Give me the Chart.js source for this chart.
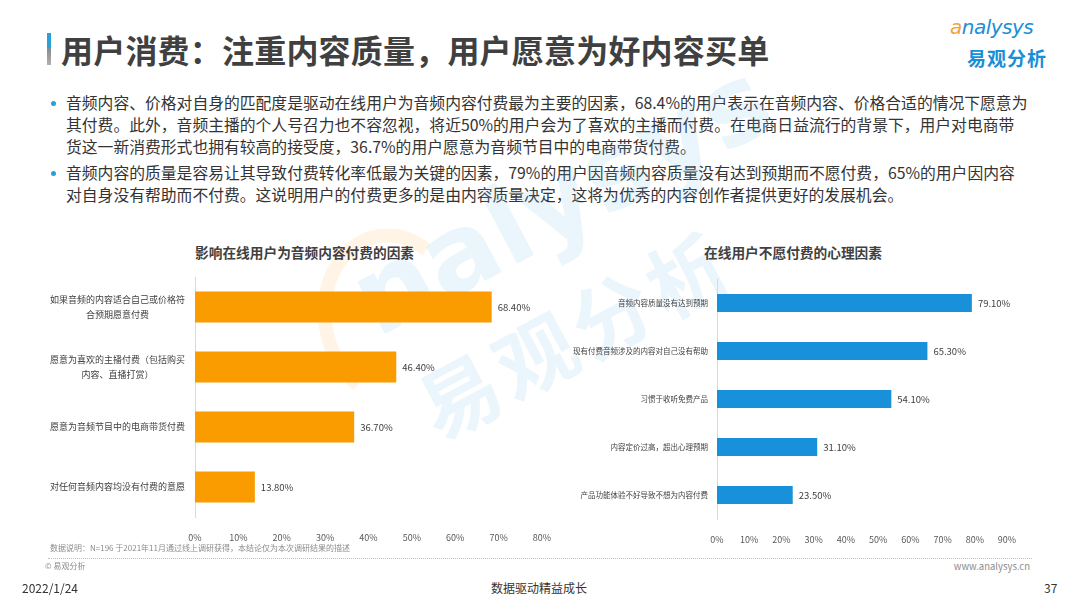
<!DOCTYPE html>
<html lang="zh">
<head>
    <meta charset="UTF-8">
    <title>用户消费：注重内容质量，用户愿意为好内容买单</title>
    <style>
        body {
            margin: 0;
            width: 1080px;
            height: 608px;
            background: #ffffff;
            font-family: 'Noto Sans CJK SC', 'Noto Sans', sans-serif;
            color: #404040;
            position: relative;
            overflow: hidden;
        }
        .abs { position: absolute; white-space: nowrap; }
        .accent {
            left: 47px; top: 33px; width: 4px; height: 32px;
            background: linear-gradient(#2aa0d8 0%, #2aa0d8 45%, #8c8c8c 50%, #b0b0b0 100%);
        }
        .title {
            left: 61px; top: 29px;
            font-size: 32px; font-weight: 700; color: #404040;
            line-height: 40px; letter-spacing: 0.2px;
        }
        .logo-en {
            left: 950px; top: 15px; font-family: 'DejaVu Sans', sans-serif;
            font-size: 20px; font-style: italic; color: #1a8fd6; letter-spacing: -0.5px;
        }
        .logo-cn {
            left: 967px; top: 44px; font-size: 19px; font-weight: 700; color: #1a8fd6; letter-spacing: 1px;
        }
        .bullet-line {
            font-size: 15.8px; line-height: 22px; color: #333333; left: 66px;
        }
        .dot {
            width: 5px; height: 5px; border-radius: 50%; background: #2aa0d8; left: 51px;
        }
        .chart-title {
            font-size: 13.7px; font-weight: 700; color: #404040;
        }
        .watermark {
            transform: rotate(-28deg); transform-origin: left top;
            color: rgba(120, 190, 235, 0.15); font-family: 'DejaVu Sans', sans-serif; font-weight: 700;
        }
        .arc {
            left: 318px; top: 228px; width: 120px; height: 150px;
            border-radius: 50%; border: 14px solid transparent;
            border-top-color: rgba(250, 170, 60, 0.13); border-left-color: rgba(250, 170, 60, 0.13);
            transform: rotate(-10deg);
        }
        .note { font-size: 8px; color: #8c8c8c; }
        .foot { font-size: 12px; color: #333333; }
        .dotted {
            left: 48px; top: 558px; width: 984px; height: 0;
            border-top: 1px dotted #bfbfbf;
        }
        canvas { position: absolute; }
    </style>
    <script src="https://cdn.jsdelivr.net/npm/chart.js"></script>
</head>
<body>
    <div class="abs accent"></div>
    <div class="abs title">用户消费：注重内容质量，用户愿意为好内容买单</div>
    <div class="abs logo-en"><span style="color:#f3a43a">a</span>nalysys</div>
    <div class="abs logo-cn">易观分析</div>

    <div class="abs dot" style="top:101px"></div>
    <div class="abs bullet-line" style="top:92px">音频内容、价格对自身的匹配度是驱动在线用户为音频内容付费最为主要的因素，68.4%的用户表示在音频内容、价格合适的情况下愿意为</div>
    <div class="abs bullet-line" style="top:114px">其付费。此外，音频主播的个人号召力也不容忽视，将近50%的用户会为了喜欢的主播而付费。在电商日益流行的背景下，用户对电商带</div>
    <div class="abs bullet-line" style="top:136px">货这一新消费形式也拥有较高的接受度，36.7%的用户愿意为音频节目中的电商带货付费。</div>
    <div class="abs dot" style="top:171px"></div>
    <div class="abs bullet-line" style="top:162px">音频内容的质量是容易让其导致付费转化率低最为关键的因素，79%的用户因音频内容质量没有达到预期而不愿付费，65%的用户因内容</div>
    <div class="abs bullet-line" style="top:184px">对自身没有帮助而不付费。这说明用户的付费更多的是由内容质量决定，这将为优秀的内容创作者提供更好的发展机会。</div>

    <div class="abs arc"></div>
    <div class="abs watermark" style="left:330px; top:250px; font-size:108px;">nalysys</div>
    <div class="abs watermark" style="left:395px; top:360px; font-size:80px; font-family:'Noto Sans CJK SC'; letter-spacing:6px;">易观分析</div>

    <div class="abs chart-title" style="left:195px; top:242px;">影响在线用户为音频内容付费的因素</div>
    <div class="abs chart-title" style="left:704px; top:242px;">在线用户不愿付费的心理因素</div>

    <canvas id="leftChart" style="left:40px; top:270px;" width="520" height="275"></canvas>
    <canvas id="rightChart" style="left:560px; top:270px;" width="500" height="275"></canvas>

    <div class="abs note" style="left:50px; top:542px;">数据说明：N=196 于2021年11月通过线上调研获得，本结论仅为本次调研结果的描述</div>
    <div class="abs dotted"></div>
    <div class="abs note" style="left:45px; top:560px;">© 易观分析</div>
    <div class="abs note" style="right:50px; top:559px; font-size:9.5px;">www.analysys.cn</div>
    <div class="abs foot" style="left:22px; top:579px;">2022/1/24</div>
    <div class="abs foot" style="left:491px; top:579px;">数据驱动精益成长</div>
    <div class="abs foot" style="left:1044px; top:579px;">37</div>

    <script>
        // 影响在线用户为音频内容付费的因素
        const payFactors = [
            ['如果音频的内容适合自己或价格符', '合预期愿意付费'],
            ['愿意为喜欢的主播付费（包括购买', '内容、直播打赏）'],
            '愿意为音频节目中的电商带货付费',
            '对任何音频内容均没有付费的意愿'
        ];
        const payValues = [68.4, 46.4, 36.7, 13.8];

        // 在线用户不愿付费的心理因素
        const refuseFactors = [
            '音频内容质量没有达到预期',
            '现有付费音频涉及的内容对自己没有帮助',
            '习惯于收听免费产品',
            '内容定价过高，超出心理预期',
            '产品功能体验不好导致不想为内容付费'
        ];
        const refuseValues = [79.1, 65.3, 54.1, 31.1, 23.5];

        const leftTicks = [0, 10, 20, 30, 40, 50, 60, 70, 80];
        const rightTicks = [0, 10, 20, 30, 40, 50, 60, 70, 80, 90];

        const font = "'Noto Sans CJK SC', 'Noto Sans', sans-serif";

        // draws "68.40%" next to each bar
        const valueLabels = {
            id: 'valueLabels',
            afterDatasetsDraw(chart, args, opts) {
                const ctx = chart.ctx;
                const meta = chart.getDatasetMeta(0);
                ctx.save();
                ctx.font = opts.size + 'px ' + font;
                ctx.fillStyle = '#404040';
                ctx.textBaseline = 'middle';
                meta.data.forEach((bar, i) => {
                    const v = chart.data.datasets[0].data[i];
                    ctx.fillText(v.toFixed(2) + '%', bar.x + 6, bar.y);
                });
                ctx.restore();
            }
        };

        function makeChart(id, labels, values, ticks, color, opt) {
            return new Chart(document.getElementById(id), {
                type: 'bar',
                data: {
                    labels: labels,
                    datasets: [{
                        data: values,
                        backgroundColor: color,
                        barPercentage: opt.bar,
                        categoryPercentage: 1
                    }]
                },
                options: {
                    indexAxis: 'y',
                    responsive: false,
                    animation: false,
                    layout: { padding: { top: opt.top, right: opt.right, left: 0, bottom: 0 } },
                    plugins: {
                        legend: { display: false },
                        tooltip: { enabled: false },
                        valueLabels: { size: opt.valueSize }
                    },
                    scales: {
                        x: {
                            min: 0,
                            max: ticks[ticks.length - 1],
                            afterBuildTicks: s => { s.ticks = ticks.map(v => ({ value: v })); },
                            afterFit: s => { s.height = opt.xHeight; },
                            grid: { display: false },
                            border: { display: false },
                            ticks: {
                                callback: v => v + '%',
                                color: '#595959',
                                padding: 7,
                                maxRotation: 0,
                                font: { family: font, size: 9 }
                            }
                        },
                        y: {
                            afterFit: s => {
                                s.width = opt.yWidth;
                                s.paddingTop = 0;
                                s.paddingBottom = 0;
                            },
                            grid: { display: false, drawTicks: false },
                            border: { display: true, color: '#d9d9d9' },
                            ticks: {
                                color: '#404040',
                                padding: opt.pad,
                                crossAlign: opt.align,
                                font: { family: font, size: opt.labelSize, lineHeight: 1.6 }
                            }
                        }
                    }
                },
                plugins: [valueLabels]
            });
        }

        makeChart('leftChart', payFactors, payValues, leftTicks, '#fa9c00',
            { bar: 0.52, top: 7, right: 18, xHeight: 28, yWidth: 155, pad: 10, align: 'center', labelSize: 9, valueSize: 9.5 });
        makeChart('rightChart', refuseFactors, refuseValues, rightTicks, '#1890da',
            { bar: 0.375, top: 9, right: 53, xHeight: 26, yWidth: 157, pad: 9, align: 'near', labelSize: 7.5, valueSize: 9.5 });
    </script>
</body>
</html>
